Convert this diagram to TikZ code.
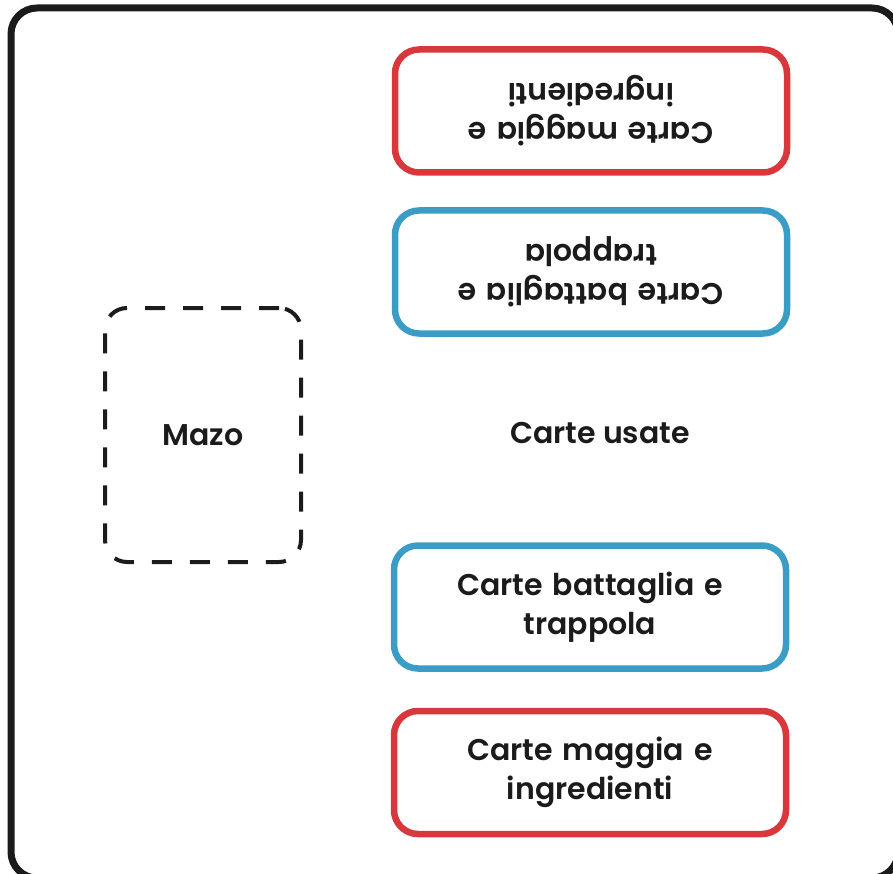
\documentclass[tikz,border=0pt]{standalone}
\usepackage{fontspec}
\setmainfont{Poppins}
\newfontfamily\cartafont{Poppins SemiBold}
\usetikzlibrary{positioning}

\definecolor{rojo}{HTML}{D8383B}
\definecolor{azul}{HTML}{3B9CC6}
\definecolor{tinta}{HTML}{1B1B1B}

\begin{document}
\begin{tikzpicture}[x=1pt, y=-1pt, node distance = 36pt, auto]
            % Estilos
            \tikzstyle{carta} = [rectangle, draw, line width=6.5pt, fill=white,
            text width=360pt, align=center, rounded corners=24pt,
            minimum width=392pt, minimum height=123pt, text=tinta,
            font=\fontsize{30}{39}\cartafont]
            \tikzstyle{mazo} = [rectangle, draw=tinta, line width=4pt,
            dash pattern=on 20pt off 18pt, rounded corners=22pt,
            minimum width=196pt, minimum height=254pt, text=tinta,
            font=\fontsize{30}{39}\cartafont]

            \useasboundingbox (0,0) rectangle (893,874);
            \draw [tinta, line width=7pt, rounded corners=26pt] (11,8) rectangle (898,878);

            \node [mazo] (mz) at (203,435) {Mazo};
            \node [text=tinta, font=\fontsize{30}{39}\cartafont] (usate) at (600,433) {Carte usate};

            \node [carta, draw=rojo, rotate=180] (magia1) at (591,111) {Carte maggia e\\ ingredienti};
            \node [carta, draw=azul, rotate=180] (batt1) at (591,272) {Carte battaglia e\\ trappola};
            \node [carta, draw=azul] (batt2) at (590,607) {Carte battaglia e\\ trappola};
            \node [carta, draw=rojo, below = of batt2] (magia2) {Carte maggia e\\ ingredienti};
      \end{tikzpicture}
\end{document}
